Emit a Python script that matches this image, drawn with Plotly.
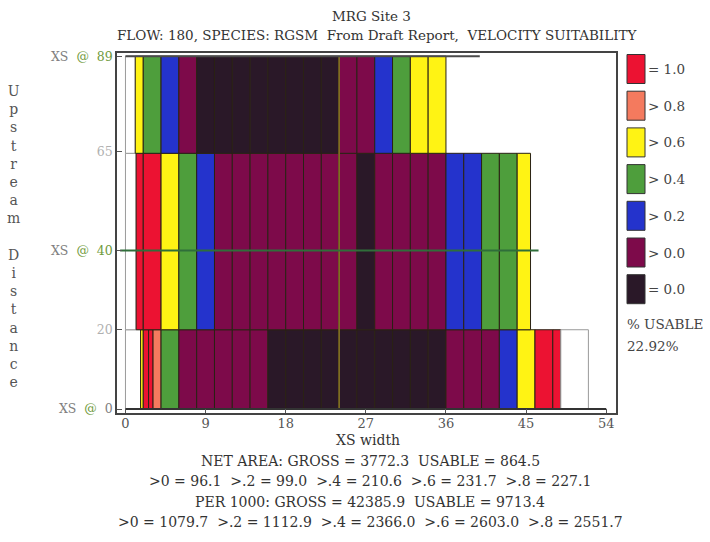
import plotly.graph_objects as go

# ---------------- data ----------------
title_main = "MRG Site 3"
title_sub = "FLOW: 180, SPECIES: RGSM&nbsp; From Draft Report,&nbsp; VELOCITY SUITABILITY"

# cross sections (upstream distance) and their cell bands
xs_pos = [0, 40, 89]
band_bottom = [0, 20, 64.5]
band_top = [20, 64.5, 89]
xs_line_start = [0, -0.6, 0]
xs_line_end = [54, 46.4, 39.8]

# suitability classes
class_keys = ["r", "o", "y", "g", "b", "m", "k"]
class_labels = ["= 1.0", "> 0.8", "> 0.6", "> 0.4", "> 0.2", "> 0.0", "= 0.0"]
class_colors = {"r": "#EC1232", "o": "#F47A5E", "y": "#FFF314", "g": "#4E9E3C",
                "b": "#2433CC", "m": "#7D0A4A", "k": "#2A1828", "w": "#FFFFFF"}

# cell edges (XS width) and classes for each band
edges_xs0 = [0, 1.7, 2.0, 2.6, 3.1, 4, 6, 8, 10, 12, 14, 16, 18, 20, 22, 24, 26, 28, 30,
             32, 34, 36, 38, 40, 42, 44, 46, 48, 48.9, 52]
cls_xs0 = "w y r r o g m m m m m k k k k k k k k k k m m m b y r r w".split()

edges_xs40 = [0, 1.2, 2, 4, 6, 8, 10, 12, 14, 16, 18, 20, 22, 24, 26, 28, 30, 32, 34, 36,
              38, 40, 42, 44, 45.5]
cls_xs40 = "w r r y g b m m m m m m m m k m m m m b b g g y".split()

edges_xs89 = [0, 1.1, 2, 4, 6, 8, 10, 12, 14, 16, 18, 20, 22, 24, 26, 28, 30, 32, 34, 36]
cls_xs89 = "w y g b m k k k k k k k k m m b g y y".split()

band_edges = [edges_xs0, edges_xs40, edges_xs89]
band_classes = [cls_xs0, cls_xs40, cls_xs89]

center_line_x = 24

x_ticks = [0, 9, 18, 27, 36, 45, 54]
y_ticks = [0, 20, 40, 65, 89]

pct_usable = "22.92%"
stats_lines = [
    "NET AREA: GROSS = 3772.3&nbsp; USABLE = 864.5",
    "&gt;0 = 96.1&nbsp; &gt;.2 = 99.0&nbsp; &gt;.4 = 210.6&nbsp; &gt;.6 = 231.7&nbsp; &gt;.8 = 227.1",
    "PER 1000: GROSS = 42385.9&nbsp; USABLE = 9713.4",
    "&gt;0 = 1079.7&nbsp; &gt;.2 = 1112.9&nbsp; &gt;.4 = 2366.0&nbsp; &gt;.6 = 2603.0&nbsp; &gt;.8 = 2551.7",
]

# ---------------- layout helpers ----------------
W, H = 710, 542
L, R, T, B = 117, 94, 53, 129
PW, PH = W - L - R, H - T - B
FONT = "DejaVu Serif, Liberation Serif, serif"


def px_x(px):
    return (px - L) / PW


def px_y(py):
    return (H - B - py) / PH


fig = go.Figure()

# cells
for edges, classes, y0, y1 in zip(band_edges, band_classes, band_bottom, band_top):
    centers = [(a + b) / 2 for a, b in zip(edges[:-1], edges[1:])]
    widths = [b - a for a, b in zip(edges[:-1], edges[1:])]
    colors = [class_colors[c] for c in classes]
    lcols = ["#9a9a9a" if c == "w" else "#2a2214" for c in classes]
    fig.add_trace(go.Bar(
        x=centers, y=[y1 - y0] * len(centers), base=[y0] * len(centers), width=widths,
        marker=dict(color=colors, line=dict(color=lcols, width=1)),
        showlegend=False, hoverinfo="skip"))

# center line
fig.add_trace(go.Scatter(x=[center_line_x, center_line_x], y=[band_bottom[0], band_top[-1]],
                         mode="lines", line=dict(color="#8c7a24", width=1.5),
                         showlegend=False, hoverinfo="skip"))

# cross-section lines
xs_line_colors = ["#333333", "#2f6e3a", "#4a4a4a"]
for yv, xa, xb, col in zip(xs_pos, xs_line_start, xs_line_end, xs_line_colors):
    fig.add_trace(go.Scatter(x=[xa, xb], y=[yv, yv], mode="lines",
                             line=dict(color=col, width=2),
                             showlegend=False, hoverinfo="skip"))

green = "#6f9a3c"
sp = "&nbsp;"
y_ticktext = [
    f"XS{sp} <span style='color:{green}'>@</span>{sp} 0",
    "<span style='color:#b0b0b0'>20</span>",
    f"XS{sp} <span style='color:{green}'>@</span>{sp} <span style='color:{green}'>40</span>",
    "<span style='color:#b0b0b0'>65</span>",
    f"XS{sp} <span style='color:{green}'>@</span>{sp} <span style='color:{green}'>89</span>",
]

fig.update_layout(
    width=W, height=H, margin=dict(l=L, r=R, t=T, b=B),
    paper_bgcolor="white", plot_bgcolor="white",
    barmode="overlay",
    font=dict(family=FONT, size=13, color="#444444"),
    xaxis=dict(range=[-0.95, 55.1], tickvals=x_ticks, ticks="inside", ticklen=4,
               tickcolor="#555", showgrid=False, zeroline=False, showline=True,
               linecolor="#444", linewidth=1.5, mirror=True, ticklabelstandoff=-2,
               tickfont=dict(family=FONT, size=13, color="#555555")),
    yaxis=dict(range=[-1, 89.8], tickvals=y_ticks, ticktext=y_ticktext, ticks="inside",
               ticklen=5, tickcolor="#555", showgrid=False, zeroline=False, showline=True,
               linecolor="#444", linewidth=1.5, mirror=True,
               tickfont=dict(family=FONT, size=12.5, color="#808080")),
)

ann = []


def add_text(text, xp, yp, size, color="#333", xanchor="center"):
    ann.append(dict(text=text, x=px_x(xp), y=px_y(yp), xref="paper", yref="paper",
                    xanchor=xanchor, yanchor="middle", showarrow=False,
                    font=dict(family=FONT, size=size, color=color)))


# titles
add_text(title_main, 371, 16, 13.5)
add_text(title_sub, 377, 35, 13.5)
# y axis title (stacked letters)
ytitle = "Upstream Distance"
stack = "<br>".join(ch if ch != " " else " " for ch in ytitle)
ann.append(dict(text=stack, x=px_x(13), y=px_y(236), xref="paper", yref="paper",
                showarrow=False, align="center", xanchor="center", yanchor="middle",
                font=dict(family=FONT, size=14, color="#555")))
# x axis title and stats
add_text("XS width", 368, 440, 14)
for i, line in enumerate(stats_lines):
    add_text(line, 370, 461 + 20.3 * i, 14)

# legend
shapes = []
for i, (k, lab) in enumerate(zip(class_keys, class_labels)):
    cy = 69 + 36.7 * i
    shapes.append(dict(type="rect", xref="paper", yref="paper",
                       x0=px_x(627), x1=px_x(645), y0=px_y(cy + 14.5), y1=px_y(cy - 14.5),
                       fillcolor=class_colors[k], line=dict(color="#333", width=1)))
    add_text(lab, 646, cy, 13.5, "#444", "left")
add_text("% USABLE", 625, 324, 13.5, "#444", "left")
add_text(pct_usable, 625, 346, 13.5, "#444", "left")

fig.update_layout(annotations=ann, shapes=shapes)
fig.write_html("out.html", config={"displayModeBar": False},
               post_script="document.body.style.margin='0px';")
